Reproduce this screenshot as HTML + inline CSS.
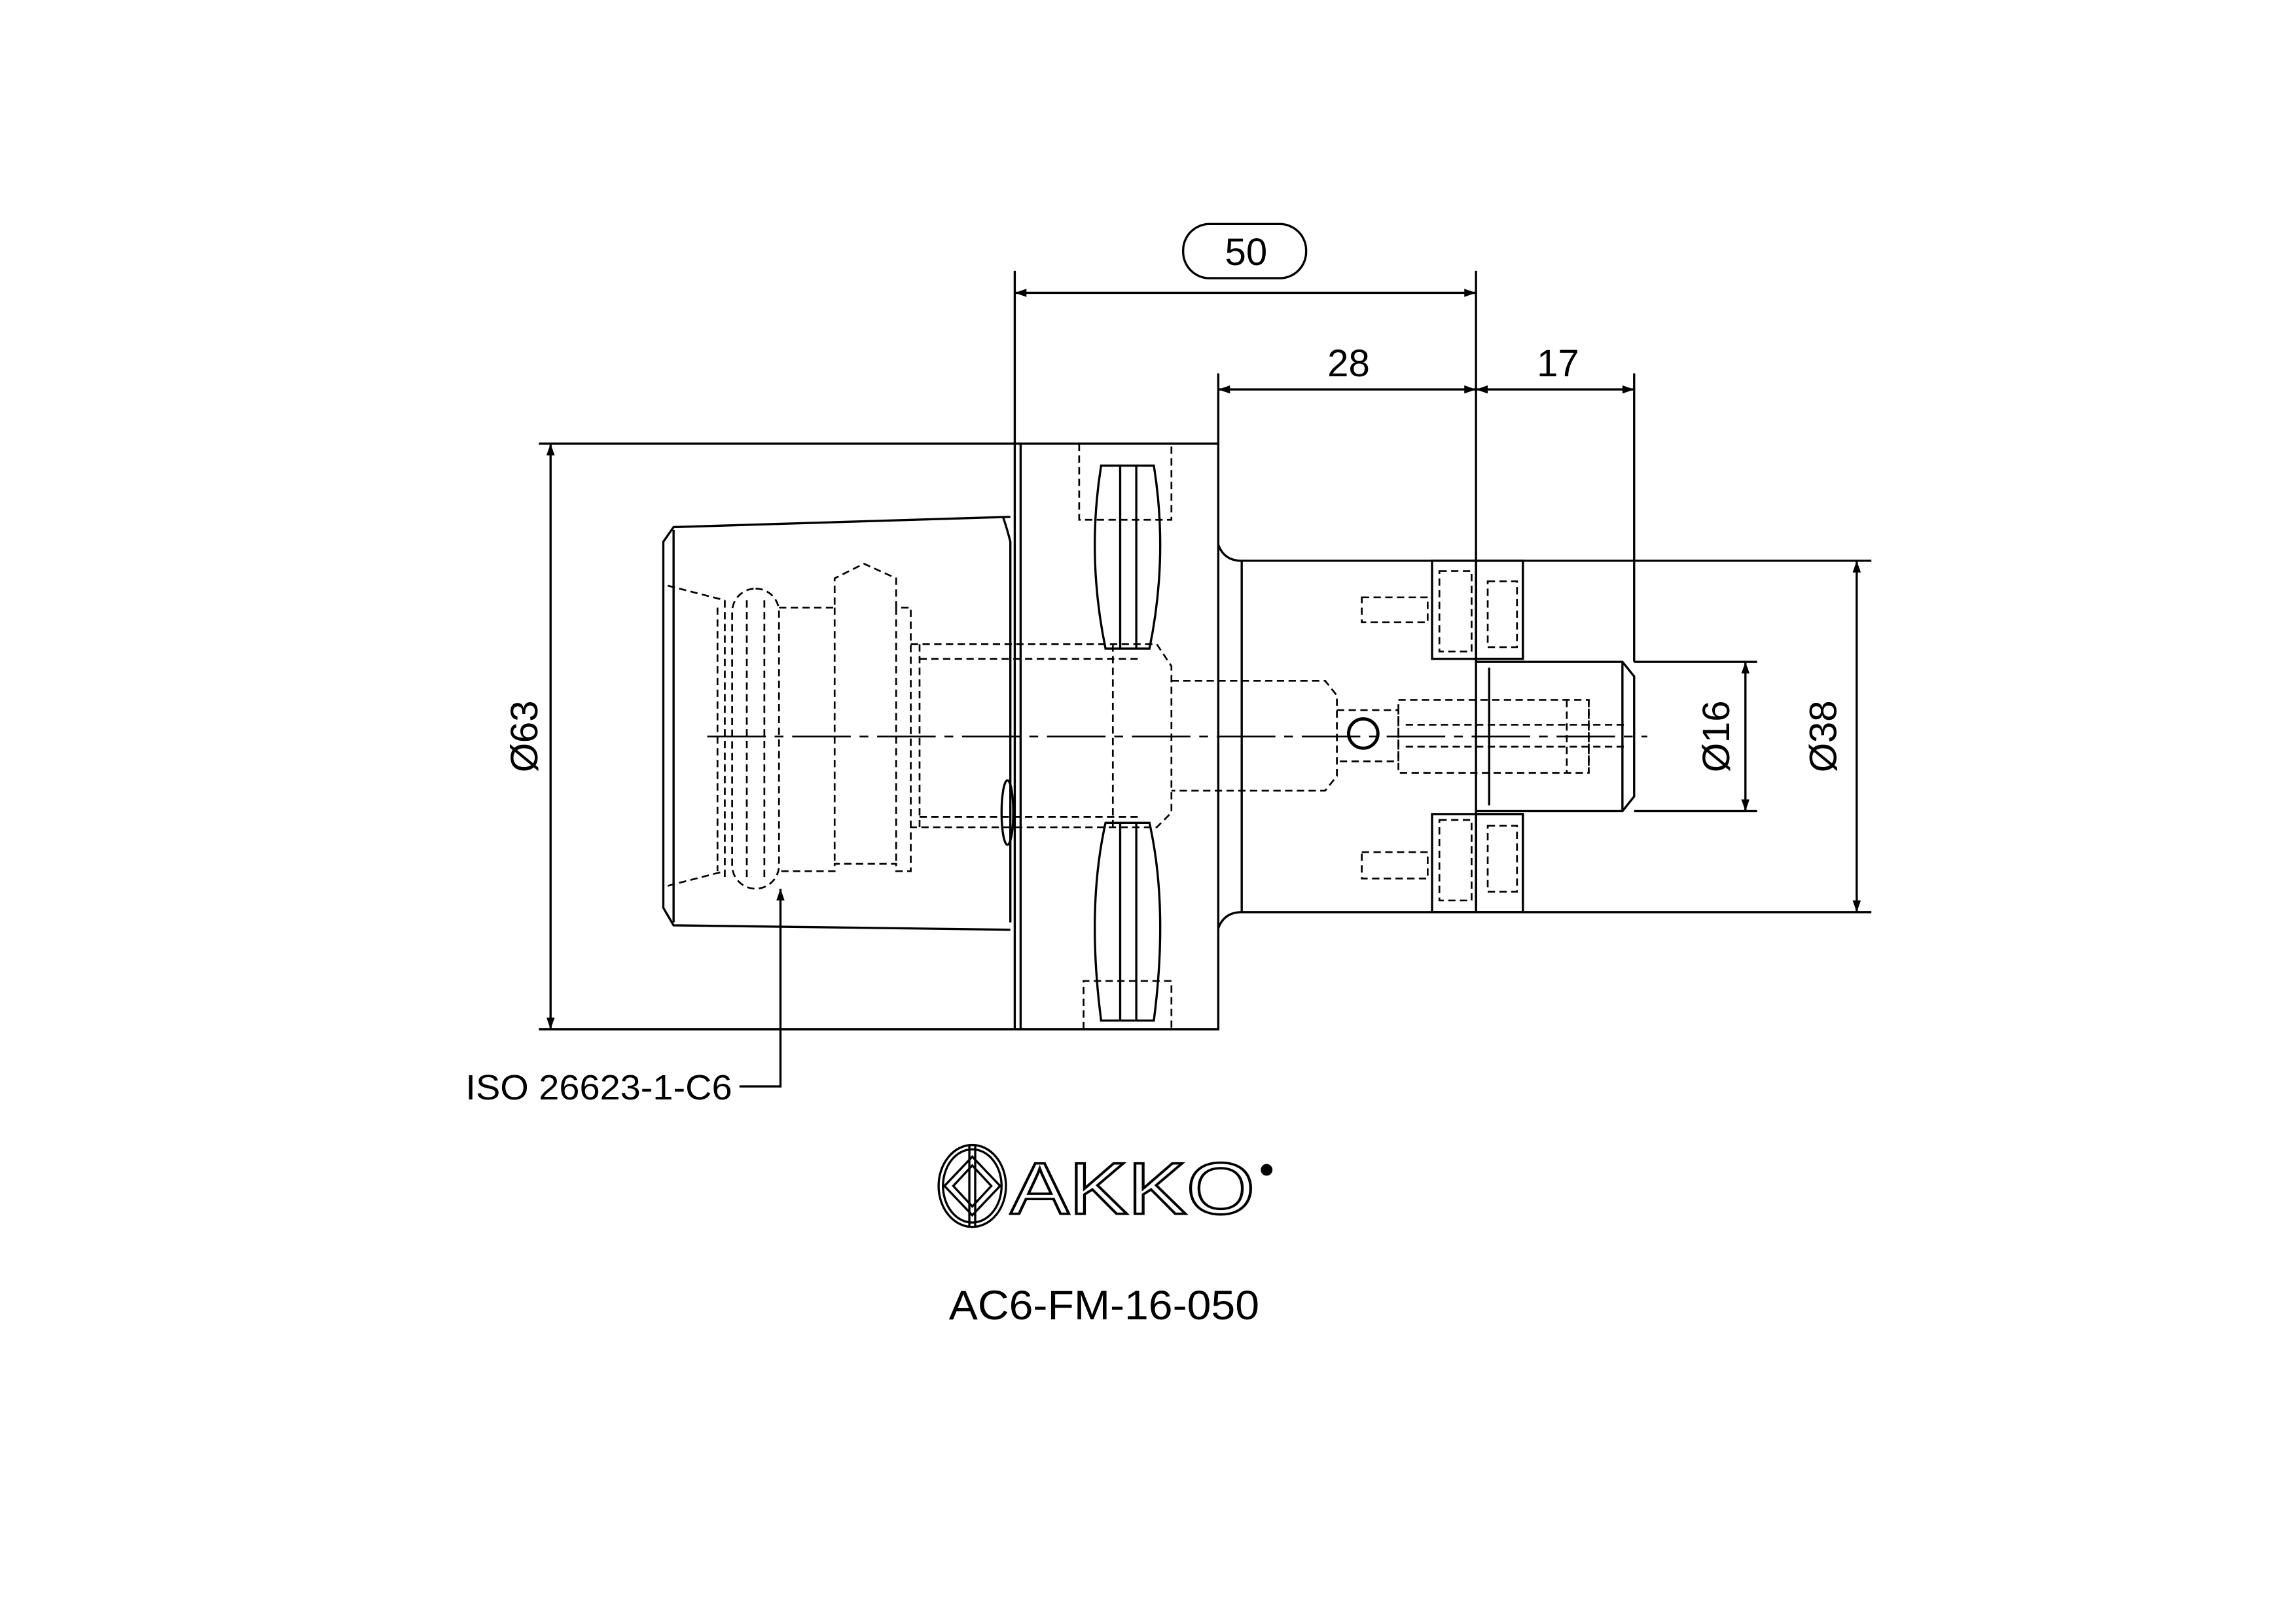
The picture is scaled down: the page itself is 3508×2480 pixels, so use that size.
<!DOCTYPE html>
<html><head><meta charset="utf-8"><style>html,body{margin:0;padding:0;background:#fff}svg{display:block}</style></head>
<body>
<svg xmlns="http://www.w3.org/2000/svg" width="3508" height="2480" viewBox="0 0 1568 1108.5" font-family="'Liberation Sans',sans-serif">
<defs>
<marker id="a" viewBox="0 0 10 10" refX="10" refY="5" markerWidth="14" markerHeight="8" markerUnits="userSpaceOnUse" orient="auto-start-reverse"><path d="M0,1.5 L10,5 L0,8.5Z" fill="#000"/></marker>
</defs>
<rect width="1568" height="1108.5" fill="#fff"/>
<g stroke="#000" stroke-width="1.5" fill="none">
<line x1="693" y1="185" x2="693" y2="303"/>
<line x1="1008" y1="185" x2="1008" y2="383"/>
<line x1="832" y1="255" x2="832" y2="303"/>
<line x1="1116" y1="255" x2="1116" y2="452"/>
<line x1="368" y1="303" x2="693" y2="303"/>
<line x1="368" y1="703" x2="693" y2="703"/>
<line x1="1040" y1="383" x2="1278" y2="383"/>
<line x1="1040" y1="623" x2="1278" y2="623"/>
<line x1="1116" y1="452" x2="1200" y2="452"/>
<line x1="1116" y1="554" x2="1200" y2="554"/>
<line x1="693" y1="200" x2="1008" y2="200" marker-start="url(#a)" marker-end="url(#a)"/>
<line x1="832" y1="266" x2="1008" y2="266" marker-start="url(#a)" marker-end="url(#a)"/>
<line x1="1008" y1="266" x2="1116" y2="266" marker-start="url(#a)" marker-end="url(#a)"/>
<line x1="376" y1="303" x2="376" y2="703" marker-start="url(#a)" marker-end="url(#a)"/>
<line x1="1268" y1="383" x2="1268" y2="623" marker-start="url(#a)" marker-end="url(#a)"/>
<line x1="1192" y1="452" x2="1192" y2="554" marker-start="url(#a)" marker-end="url(#a)"/>
<rect x="808" y="153" width="84" height="37" rx="18"/>
<path d="M693,303 H832 V703 H693 Z"/>
<line x1="697" y1="303" x2="697" y2="703"/>
<path d="M832,372 Q836,383 848,383 H1008 M832,634 Q836,623 848,623 H1008"/>
<line x1="848" y1="383" x2="848" y2="623"/>
<path d="M690,353 L460,360 L453,370 V620 L460,632 L690,635"/>
<line x1="460" y1="362" x2="460" y2="630"/>
<path d="M685,353 Q688,362 690,370 V630"/>
<path d="M1008,452 H1108 L1116,462 V544 L1108,554 H1008"/>
<line x1="1108" y1="452" x2="1108" y2="554"/>
<line x1="1017" y1="456" x2="1017" y2="550"/>
<line x1="1008" y1="383" x2="1008" y2="623"/>
<rect x="978" y="383" width="62" height="67"/>
<rect x="978" y="556" width="62" height="67"/>
<rect x="1008" y="383" width="32" height="67"/>
<rect x="1008" y="556" width="32" height="67"/>
<path d="M752,318 Q742,380 755,443 H785 Q798,380 788,318 Z"/>
<path d="M755,562 Q742,620 752,697 H788 Q798,620 785,562 Z"/>
<line x1="765" y1="318" x2="765" y2="443"/><line x1="776" y1="318" x2="776" y2="443"/>
<line x1="765" y1="562" x2="765" y2="697"/><line x1="776" y1="562" x2="776" y2="697"/>
<ellipse cx="688" cy="555" rx="4" ry="22"/>
<circle cx="931" cy="501" r="10" stroke-width="2.2"/>
<line x1="483" y1="503" x2="1125" y2="503" stroke-dasharray="40,6,6,6" stroke-width="1.2"/>
<path d="M505,742 H533 V607" marker-end="url(#a)"/>
</g>
<g stroke="#000" stroke-width="1.2" fill="none" stroke-dasharray="5,3">
<path d="M456,400 L495,410 M456,605 L495,595"/>
<rect x="500" y="402" width="32" height="205" rx="16"/>
<line x1="510" y1="410" x2="510" y2="600"/><line x1="522" y1="410" x2="522" y2="600"/>
<line x1="495" y1="410" x2="495" y2="600"/><line x1="490" y1="415" x2="490" y2="595"/>
<path d="M532,415 H570 V395 L590,385 L612,395 V415 H622 V595 H612 V590 H570 V595 H532"/>
<line x1="570" y1="415" x2="570" y2="590"/><line x1="612" y1="415" x2="612" y2="590"/>
<path d="M622,440 H790 L800,455 V555 L790,565 H622"/>
<line x1="628" y1="450" x2="780" y2="450"/><line x1="628" y1="558" x2="780" y2="558"/>
<line x1="628" y1="440" x2="628" y2="565"/><line x1="760" y1="440" x2="760" y2="565"/>
<path d="M800,465 H905 L913,475 V530 L905,540 H800"/>
<path d="M913,485 H955 V520 H913"/>
<rect x="955" y="478" width="130" height="50"/>
<line x1="1070" y1="478" x2="1070" y2="528"/><line x1="1085" y1="478" x2="1085" y2="528"/>
<line x1="960" y1="495" x2="1110" y2="495"/><line x1="960" y1="510" x2="1110" y2="510"/>
<path d="M930,408 H975 V425 H930 Z M930,582 H975 V600 H930 Z"/>
<rect x="1016" y="397" width="20" height="45"/><rect x="1016" y="564" width="20" height="45"/>
<rect x="983" y="390" width="22" height="55"/><rect x="983" y="560" width="22" height="55"/>
<path d="M737,303 V355 H800 V303 M740,703 V670 H800 V703"/>
</g>
<g font-size="26" text-anchor="middle" fill="#000">
<text x="851" y="181">50</text>
<text x="921" y="257">28</text>
<text x="1064" y="257">17</text>
<text transform="translate(367,503) rotate(-90)">Ø63</text>
<text transform="translate(1181,503) rotate(-90)">Ø16</text>
<text transform="translate(1254,503) rotate(-90)">Ø38</text>
</g>
<text x="318" y="751" font-size="24" fill="#000" textLength="182" lengthAdjust="spacingAndGlyphs">ISO 26623-1-C6</text>
<g stroke="#000" stroke-width="1.5" fill="none">
<ellipse cx="664" cy="810" rx="23" ry="28"/><ellipse cx="664" cy="810" rx="20" ry="25"/>
<path d="M645,810 L664,790 L683,810 L664,830 Z M651,810 L664,796 L677,810 L664,824 Z"/>
<line x1="662" y1="782" x2="662" y2="838"/><line x1="666" y1="782" x2="666" y2="838"/>
</g>
<text x="690" y="829" font-size="50" fill="#fff" stroke="#000" stroke-width="1.6" textLength="167" lengthAdjust="spacingAndGlyphs">AKKO</text>
<circle cx="865" cy="799" r="4" fill="#000"/>
<text x="648" y="901" font-size="28" fill="#000" textLength="212" lengthAdjust="spacingAndGlyphs">AC6-FM-16-050</text>
</svg>
</body></html>
